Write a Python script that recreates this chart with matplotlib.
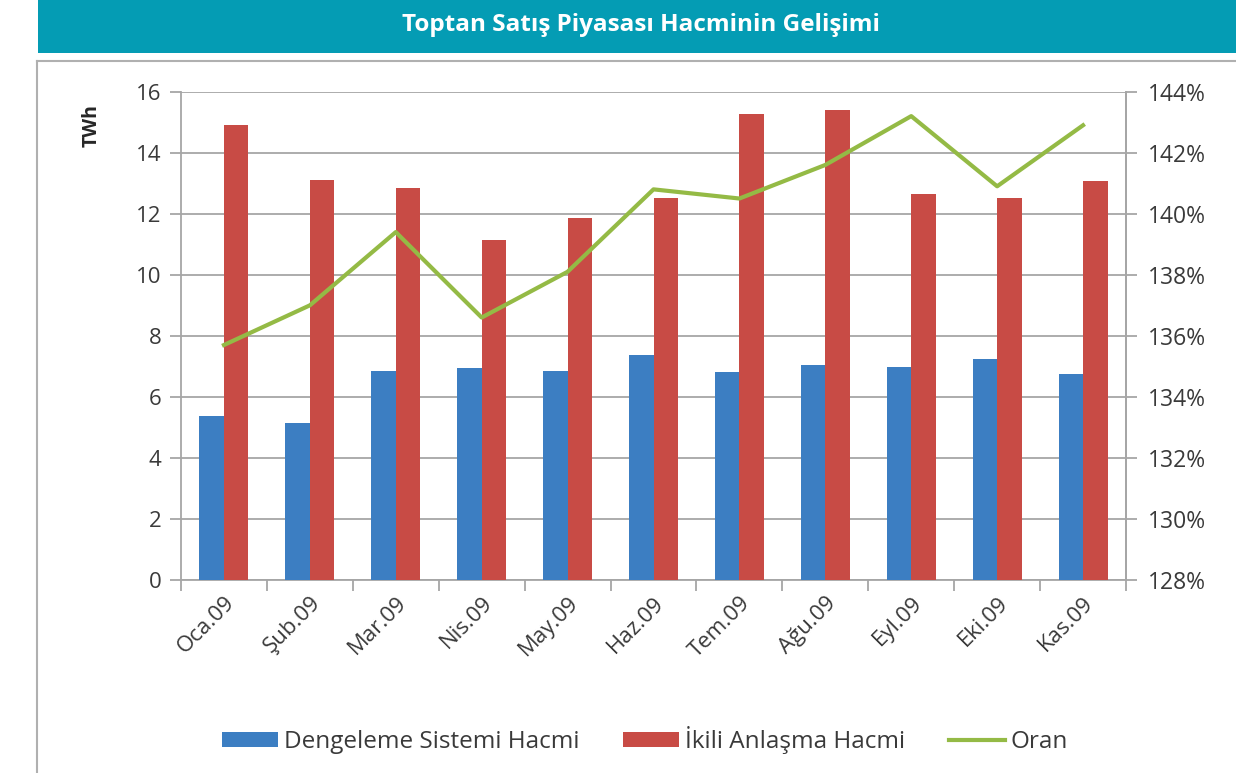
import matplotlib
matplotlib.use("Agg")
import matplotlib.pyplot as plt
from matplotlib.lines import Line2D
from matplotlib.patches import Rectangle, Patch
from matplotlib.ticker import FixedLocator, FuncFormatter
import numpy as np

plt.rcParams['font.family'] = ['Open Sans', 'DejaVu Sans']

months = ["Oca.09", "Şub.09", "Mar.09", "Nis.09", "May.09", "Haz.09",
          "Tem.09", "Ağu.09", "Eyl.09", "Eki.09", "Kas.09"]
dengeleme = [5.38, 5.16, 6.86, 6.96, 6.86, 7.38, 6.80, 7.04, 6.99, 7.24, 6.75]
ikili = [14.92, 13.11, 12.86, 11.15, 11.86, 12.51, 15.28, 15.41, 12.64, 12.51, 13.08]
oran = [135.7, 137.0, 139.4, 136.6, 138.1, 140.8, 140.5, 141.6, 143.2, 140.9, 142.9]

title = "Toptan Satış Piyasası Hacminin Gelişimi"
ylabel = "TWh"
legend_labels = ["Dengeleme Sistemi Hacmi", "İkili Anlaşma Hacmi", "Oran"]

c_blue = "#3C7EC2"
c_red = "#C84B45"
c_green = "#94BA45"
c_grid = "#A6A6A6"
c_text = "#3A3A3A"

W, H = 1236, 773
fig = plt.figure(figsize=(W / 100, H / 100), dpi=100)
fig.patch.set_facecolor("white")

# Title bar
fig.patches.append(Rectangle((38 / W, 1 - 53 / H), 1 - 38 / W, 53 / H,
                             transform=fig.transFigure, facecolor="#049CB4",
                             edgecolor="none", zorder=0))
fig.text(641 / W, 1 - 25 / H, title, color="white", fontsize=17.5,
         fontweight="bold", ha="center", va="center")

# Chart frame
fig.lines.append(Line2D([37 / W, 1], [1 - 61 / H, 1 - 61 / H],
                        transform=fig.transFigure, color="#B0B0B0", lw=1.5))
fig.lines.append(Line2D([37 / W, 37 / W], [0, 1 - 61 / H],
                        transform=fig.transFigure, color="#B0B0B0", lw=1.5))

ax = fig.add_axes([181 / W, 1 - 580 / H, (1126 - 181) / W, (580 - 91.7) / H])
x = np.arange(len(months))
bw = 0.285
ax.bar(x - bw / 2, dengeleme, width=bw, color=c_blue, zorder=3)
ax.bar(x + bw / 2, ikili, width=bw, color=c_red, zorder=3)
ax.set_xlim(-0.5, len(months) - 0.5)
ax.set_ylim(0, 16)
ax.set_yticks(np.arange(0, 17, 2))
ax.yaxis.grid(True, color=c_grid, lw=1.3, zorder=0)
ax.set_axisbelow(True)
ax.spines["top"].set_visible(False)
for s in ["left", "bottom", "right"]:
    ax.spines[s].set_color(c_grid)
    ax.spines[s].set_linewidth(1.3)
ax.tick_params(axis="y", direction="out", length=8, width=1.3, color=c_grid,
               labelsize=16, labelcolor=c_text, pad=6)
ax.set_xticks(x)
ax.set_xticklabels(months, rotation=45, ha="right", va="top",
                   rotation_mode="anchor")
ax.tick_params(axis="x", which="major", length=0, labelsize=16,
               labelcolor=c_text, pad=9)
ax.xaxis.set_minor_locator(FixedLocator(np.arange(-0.5, len(months), 1.0)))
ax.tick_params(axis="x", which="minor", direction="out", length=8, width=1.3,
               color=c_grid)

ax2 = ax.twinx()
ax2.plot(x, oran, color=c_green, lw=3, zorder=4)
ax2.set_ylim(128, 144)
ax2.set_yticks(np.arange(128, 145, 2))
ax2.yaxis.set_major_formatter(FuncFormatter(lambda v, p: f"{int(v)}%"))
for s in ["top", "left", "bottom"]:
    ax2.spines[s].set_visible(False)
ax2.spines["right"].set_color(c_grid)
ax2.spines["right"].set_linewidth(1.3)
ax2.tick_params(axis="y", direction="out", length=8, width=1.3, color=c_grid,
                labelsize=16.5, labelcolor=c_text, pad=8)

fig.text(92 / W, 1 - 126 / H, ylabel, rotation=90, fontsize=14,
         fontweight="bold", color="#262626", ha="center", va="center")

handles = [Patch(facecolor=c_blue), Patch(facecolor=c_red),
           Line2D([0], [0], color=c_green, lw=3)]
fig.legend(handles, legend_labels, loc="center", bbox_to_anchor=(645 / W, 1 - 740 / H),
           ncol=3, frameon=False, fontsize=17.5, handlelength=2.3, handleheight=0.6,
           handletextpad=0.25, columnspacing=1.8, labelcolor=c_text)

fig.savefig("out.png", dpi=100, facecolor="white")
